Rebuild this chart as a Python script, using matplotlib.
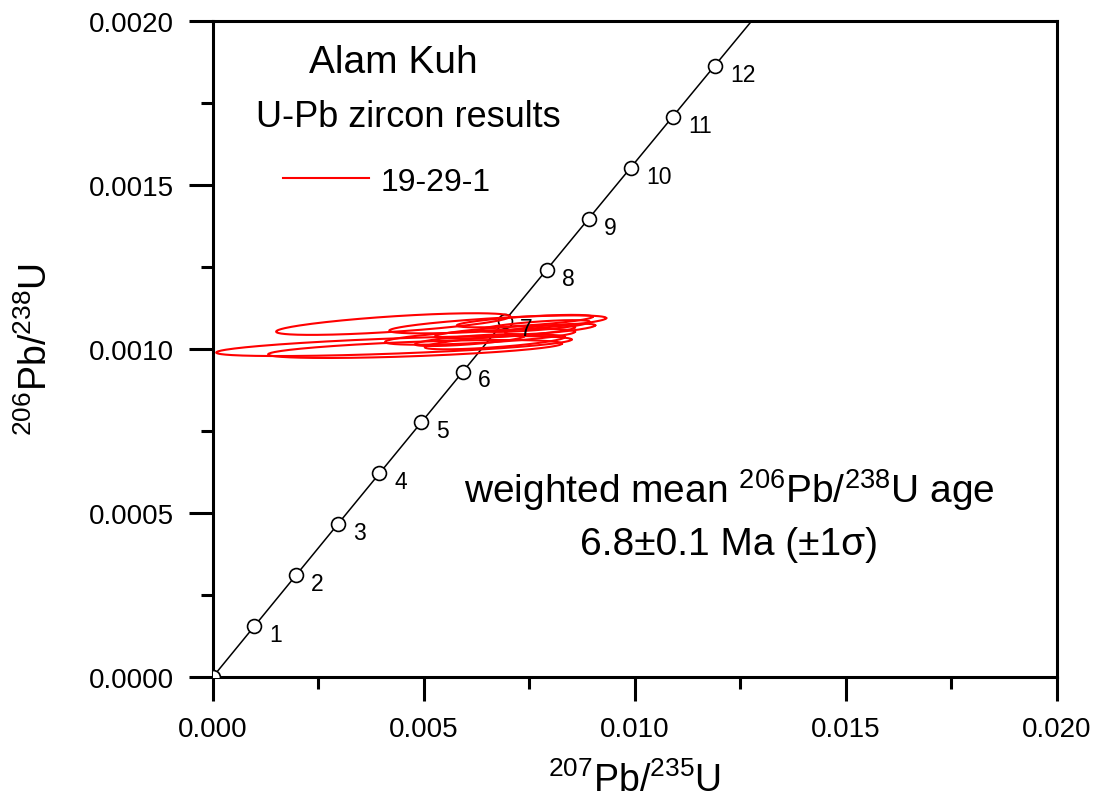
import numpy as np
import matplotlib
matplotlib.use("Agg")
import matplotlib.pyplot as plt
from matplotlib.ticker import MultipleLocator, FormatStrFormatter

plt.rcParams['font.family'] = ['Liberation Sans', 'DejaVu Sans']
plt.rcParams['mathtext.fontset'] = 'custom'
plt.rcParams['mathtext.rm'] = 'Liberation Sans'

# decay constants (1/yr)
LAMBDA_238 = 1.55125e-10
LAMBDA_235 = 9.8485e-10

# concordia age marks, Ma
ages = [0, 1, 2, 3, 4, 5, 6, 7, 8, 9, 10, 11, 12]

# sample 19-29-1 analyses: 207Pb/235U, err, 206Pb/238U, err, rho
x207 = [0.00427, 0.00429, 0.00479, 0.00675, 0.00739, 0.00763, 0.00692, 0.00633, 0.00668, 0.00799, 0.00609]
sx207 = [0.00277, 0.00421, 0.00348, 0.00257, 0.00161, 0.00130, 0.00166, 0.00225, 0.00166, 0.00107, 0.00130]
y206 = [0.001076, 0.001009, 0.001000, 0.001075, 0.001085, 0.001070, 0.001052, 0.001037, 0.001021, 0.001061, 0.001027]
sy206 = [3.3e-5, 3.05e-5, 2.74e-5, 2.74e-5, 1.9e-5, 1.8e-5, 2.0e-5, 2.4e-5, 2.2e-5, 1.6e-5, 1.8e-5]
rho = [0.7, 0.65, 0.6, 0.7, 0.7, 0.7, 0.7, 0.65, 0.7, 0.7, 0.7]


def concordia(t_ma):
    t = np.asarray(t_ma, dtype=float) * 1e6
    return np.expm1(LAMBDA_235 * t), np.expm1(LAMBDA_238 * t)


def ellipse(x, sx, y, sy, r, n=200):
    cov = np.array([[sx * sx, r * sx * sy], [r * sx * sy, sy * sy]])
    L = np.linalg.cholesky(cov)
    th = np.linspace(0, 2 * np.pi, n)
    pts = L @ np.vstack([np.cos(th), np.sin(th)])
    return x + pts[0], y + pts[1]


fig = plt.figure(figsize=(10.97, 8.03), dpi=100)
ax = fig.add_axes([0.194, 0.1557, 0.7695, 0.8169])

tc = np.linspace(0, 14, 300)
cx, cy = concordia(tc)
ax.plot(cx, cy, color='black', lw=1.1, zorder=2)

mx, my = concordia(ages)
ax.plot(mx, my, 'o', ms=10, mfc='white', mec='black', mew=1.2, zorder=3)

for i in range(len(x207)):
    ex, ey = ellipse(x207[i], sx207[i], y206[i], sy206[i], rho[i])
    lab = '19-29-1' if i == 0 else None
    ax.plot(ex, ey, color='red', lw=1.5, zorder=4, label=lab)

for a, xx, yy in zip(ages, mx, my):
    if a == 0:
        continue
    ax.annotate(str(a), (xx, yy), xytext=(11, -6), textcoords='offset points',
                ha='left', va='center', fontsize=16.5, zorder=5)

ax.set_xlim(0, 0.020)
ax.set_ylim(0, 0.0020)
ax.xaxis.set_major_locator(MultipleLocator(0.005))
ax.xaxis.set_minor_locator(MultipleLocator(0.0025))
ax.yaxis.set_major_locator(MultipleLocator(0.0005))
ax.yaxis.set_minor_locator(MultipleLocator(0.00025))
ax.xaxis.set_major_formatter(FormatStrFormatter('%.3f'))
ax.yaxis.set_major_formatter(FormatStrFormatter('%.4f'))
ax.tick_params(which='major', direction='out', length=17, width=2.2, labelsize=20, pad=11)
ax.tick_params(which='minor', direction='out', length=8.5, width=2.2)
for s in ax.spines.values():
    s.set_linewidth(2.2)

ax.set_xlabel(r'$\mathregular{^{207}Pb/^{235}U}$', fontsize=27, labelpad=14)
ax.set_ylabel(r'$\mathregular{^{206}Pb/^{238}U}$', fontsize=27)
ax.yaxis.set_label_coords(-0.187, 0.5)

ax.text(0.00427, 0.001875, 'Alam Kuh', fontsize=28, ha='center', va='center')
ax.text(0.00464, 0.00171, 'U-Pb zircon results', fontsize=26, ha='center', va='center')
ax.legend(loc='upper left', bbox_to_anchor=(0.049, 0.822), frameon=False, fontsize=23,
          handlelength=2.7, handletextpad=0.35)

ax.text(0.01223, 0.000573, r'weighted mean $\mathregular{^{206}Pb/^{238}U}$ age', fontsize=28,
        ha='center', va='center')
ax.text(0.01223, 0.000405, '6.8±0.1 Ma (±1σ)', fontsize=28, ha='center', va='center')

fig.savefig('out.png', dpi=100)
